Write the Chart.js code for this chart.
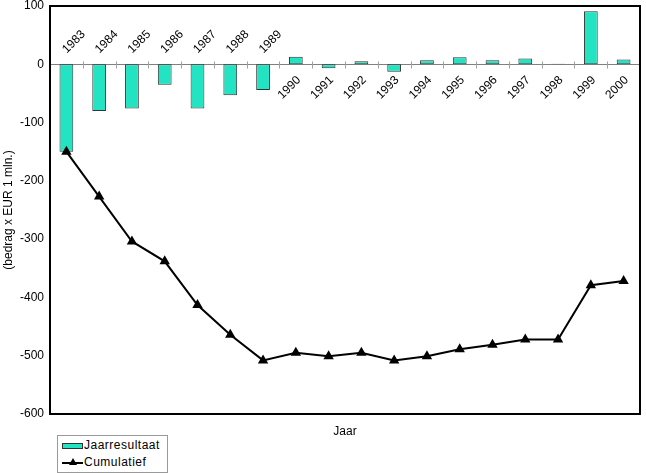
<!DOCTYPE html>
<html>
<head>
<meta charset="utf-8">
<script src="https://cdn.jsdelivr.net/npm/chart.js@4.4.1/dist/chart.umd.min.js"></script>
<style>
  body { margin: 0; background: #fff; }
  #wrap { position: relative; width: 646px; height: 473px; }
  #c { display: block; }
  #legend {
    position: absolute; left: 57px; top: 435px; width: 109px; height: 36px;
    border: 1px solid #9a9a9a; background: #fff;
    font: 12px "Liberation Sans", Arial, sans-serif; color: #000; letter-spacing: 0.5px;
  }
  #legend .row { position: absolute; left: 4px; height: 16px; line-height: 16px; white-space: nowrap; }
  #legend .sw { display: inline-block; vertical-align: middle; width: 21px; margin-right: 1px; position: relative; height: 8px; }
</style>
</head>
<body>
<div id="wrap">
  <canvas id="c" width="646" height="473"></canvas>
  <div id="legend">
    <div class="row" style="top:1px"><span class="sw"><span style="position:absolute;left:0;top:1px;width:19px;height:4px;background:#22e3c2;border:1px solid #333"></span></span>Jaarresultaat</div>
    <div class="row" style="top:18px"><span class="sw"><span style="position:absolute;left:0;top:3px;width:21px;height:2px;background:#000"></span><span style="position:absolute;left:7px;top:-1px;width:0;height:0;border-left:4px solid transparent;border-right:4px solid transparent;border-bottom:7px solid #000"></span></span>Cumulatief</div>
  </div>
</div>
<script>
const years = ["1983", "1984", "1985", "1986", "1987", "1988", "1989", "1990", "1991", "1992",
  "1993", "1994", "1995", "1996", "1997", "1998", "1999", "2000"];
const jaarresultaat = [-150, -80, -76, -35, -76, -53, -44, 13, -7, 5, -13, 7, 12, 7, 10, 1, 91, 8];
const cumulatief = [-150, -227, -304, -338, -413, -464, -508, -495, -501, -495, -508, -501, -489, -481, -472, -472, -379, -372];
// year labels sit above the zero line up to 1989, below it afterwards
const labelAbove = [true, true, true, true, true, true, true, false, false, false,
  false, false, false, false, false, false, false, false];

const FONT = '"Liberation Sans", Arial, sans-serif';

// zero line with small category ticks, drawn under the bars
const zeroLine = {
  id: "zeroLine",
  beforeDatasetsDraw(chart) {
    const { ctx, chartArea, scales: { x, y } } = chart;
    const y0 = Math.round(y.getPixelForValue(0)) + 0.5;
    ctx.save();
    ctx.strokeStyle = "#808080";
    ctx.lineWidth = 1;
    ctx.beginPath();
    ctx.moveTo(chartArea.left, y0);
    ctx.lineTo(chartArea.right, y0);
    ctx.stroke();
    ctx.strokeStyle = "#a0a0a0";
    for (let i = 1; i < years.length; i++) {
      const xp = Math.round((x.getPixelForValue(i - 1) + x.getPixelForValue(i)) / 2) + 0.5;
      ctx.beginPath();
      ctx.moveTo(xp, y0 - 3);
      ctx.lineTo(xp, y0 + 4);
      ctx.stroke();
    }
    ctx.restore();
  },
  afterDraw(chart) {
    const { ctx, chartArea, scales: { x, y } } = chart;
    const y0 = y.getPixelForValue(0);
    ctx.save();
    // frame
    ctx.strokeStyle = "#000";
    ctx.lineWidth = 2;
    ctx.strokeRect(chartArea.left, chartArea.top, chartArea.right - chartArea.left, chartArea.bottom - chartArea.top);
    // year labels along the zero line, rotated
    ctx.fillStyle = "#000";
    ctx.font = "12px " + FONT;
    ctx.textBaseline = "middle";
    years.forEach((yr, i) => {
      const xp = x.getPixelForValue(i);
      ctx.save();
      if (labelAbove[i]) {
        ctx.translate(xp - 2, y0 - 13);
        ctx.rotate(-Math.PI / 4);
        ctx.textAlign = "left";
      } else {
        ctx.translate(xp + 3, y0 + 14);
        ctx.rotate(-Math.PI / 4);
        ctx.textAlign = "right";
      }
      ctx.fillText(yr, 0, 0);
      ctx.restore();
    });
    ctx.restore();
  }
};

new Chart(document.getElementById("c"), {
  type: "bar",
  data: {
    labels: years,
    datasets: [
      {
        type: "line",
        label: "Cumulatief",
        data: cumulatief,
        borderColor: "#000",
        backgroundColor: "#000",
        borderWidth: 2,
        pointStyle: "triangle",
        pointRadius: 4,
        pointBackgroundColor: "#000",
        pointBorderColor: "#000",
        tension: 0,
        order: 0
      },
      {
        type: "bar",
        label: "Jaarresultaat",
        data: jaarresultaat,
        backgroundColor: "#22e3c2",
        borderColor: "#333",
        borderWidth: 1,
        borderSkipped: false,
        categoryPercentage: 1,
        barPercentage: 0.42,
        order: 1
      }
    ]
  },
  options: {
    responsive: false,
    animation: false,
    layout: { padding: { top: 6, right: 5, left: 0, bottom: 0 } },
    plugins: { legend: { display: false }, tooltip: { enabled: false } },
    scales: {
      x: {
        offset: true,
        grid: { display: false },
        border: { display: false },
        ticks: { display: false },
        title: { display: true, text: "Jaar", color: "#000", font: { family: FONT, size: 12 }, padding: { top: 0, bottom: 34 } },
        afterFit: (s) => { s.height = 59; s.paddingLeft = 0; s.paddingRight = 0; }
      },
      y: {
        min: -600,
        max: 100,
        ticks: { stepSize: 100, color: "#000", font: { family: FONT, size: 12 }, padding: 6 },
        grid: { display: false, drawTicks: false },
        border: { display: false },
        title: { display: true, text: "(bedrag x EUR 1 mln.)", color: "#000", font: { family: FONT, size: 12 }, padding: { top: 1, bottom: 0 } },
        afterFit: (s) => { s.width = 50; s.paddingTop = 0; s.paddingBottom = 0; }
      }
    }
  },
  plugins: [zeroLine]
});
</script>
</body>
</html>
